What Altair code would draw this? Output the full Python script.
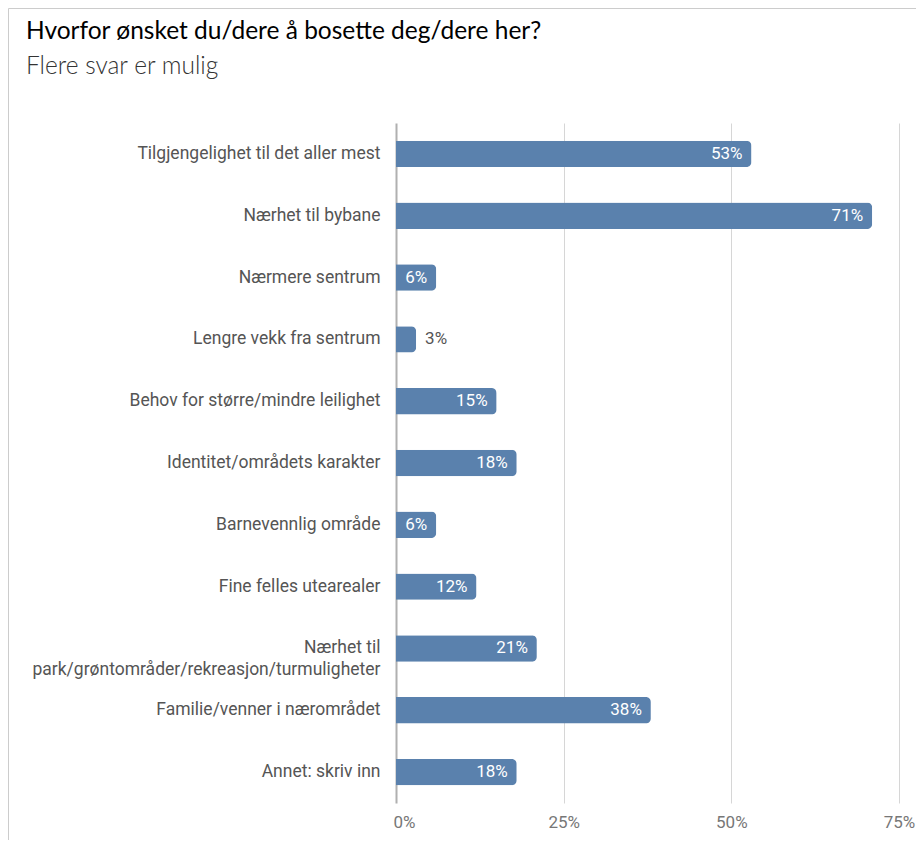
import altair as alt
import pandas as pd

categories = [
    "Tilgjengelighet til det aller mest",
    "Nærhet til bybane",
    "Nærmere sentrum",
    "Lengre vekk fra sentrum",
    "Behov for større/mindre leilighet",
    "Identitet/områdets karakter",
    "Barnevennlig område",
    "Fine felles utearealer",
    "Nærhet til|park/grøntområder/rekreasjon/turmuligheter",
    "Familie/venner i nærområdet",
    "Annet: skriv inn",
]
values = [53, 71, 6, 3, 15, 18, 6, 12, 21, 38, 18]
x_ticks = [0, 25, 50, 75]

df = pd.DataFrame({"category": categories, "value": values})
df["label"] = df["value"].astype(str) + "%"
df["inside"] = df["value"] >= 5

frame_df = pd.DataFrame({"k": [0]})

y_enc = alt.Y(
    "category:N",
    sort=categories,
    title=None,
    scale=alt.Scale(paddingInner=0.573, paddingOuter=0.2865),
    axis=alt.Axis(
        labelExpr="split(datum.label, '|')",
        labelFont="Roboto",
        labelFontSize=17.5,
        labelColor="#555555",
        labelPadding=16,
        labelLineHeight=22,
        labelLimit=400,
        ticks=False,
        domain=False,
        grid=False,
    ),
)

x_enc = alt.X(
    "value:Q",
    title=None,
    scale=alt.Scale(domain=[0, 75], nice=False),
    axis=alt.Axis(
        values=x_ticks,
        labelExpr="datum.value + '%'",
        labelFont="Roboto",
        labelFontSize=17,
        labelColor="#777777",
        labelPadding=11,
        labelFlush=False,
        labelOffset={"condition": {"test": "datum.value === 0", "value": 8}, "value": 0},
        ticks=False,
        domain=False,
        grid=True,
        gridColor={"condition": {"test": "datum.value === 0", "value": "#b0b0b0"}, "value": "#d6d6d6"},
        gridWidth={"condition": {"test": "datum.value === 0", "value": 2}, "value": 1},
    ),
)

base = alt.Chart(df).encode(y=y_enc, x=x_enc)

bars = base.mark_bar(color="#5a81ad", cornerRadiusEnd=5)

text_in = base.mark_text(
    align="right", baseline="middle", dx=-9, color="white", font="Roboto", fontSize=17
).encode(text="label:N").transform_filter("datum.inside")

text_out = base.mark_text(
    align="left", baseline="middle", dx=9, color="#555555", font="Roboto", fontSize=17
).encode(text="label:N").transform_filter("!datum.inside")

frame_top = alt.Chart(frame_df).mark_rule(color="#cccccc", strokeWidth=1).encode(
    x=alt.value(-387.5), x2=alt.value(520), y=alt.value(-114.5)
)
frame_left = alt.Chart(frame_df).mark_rule(color="#cccccc", strokeWidth=1).encode(
    x=alt.value(-387.5), y=alt.value(-114.5), y2=alt.value(720)
)

chart = alt.layer(frame_top, frame_left, bars, text_in, text_out).properties(
    width=503,
    height=680,
    padding={"left": 388, "top": 115, "right": 17, "bottom": 37},
    autosize=alt.AutoSizeParams(type="none"),
    title=alt.Title(
        text="Hvorfor ønsket du/dere å bosette deg/dere her?",
        subtitle="Flere svar er mulig",
        anchor="start",
        frame="group",
        dx=-370,
        dy=71,
        offset=0,
        font="Lato",
        fontSize=24.5,
        fontWeight="normal",
        color="#000000",
        subtitleFont="Lato",
        subtitleFontSize=24.5,
        subtitleFontWeight=300,
        subtitleColor="#333333",
        subtitlePadding=10.5,
    ),
).configure_view(stroke=None)

chart.save("out.html", embed_options={"renderer": "svg", "actions": False})
